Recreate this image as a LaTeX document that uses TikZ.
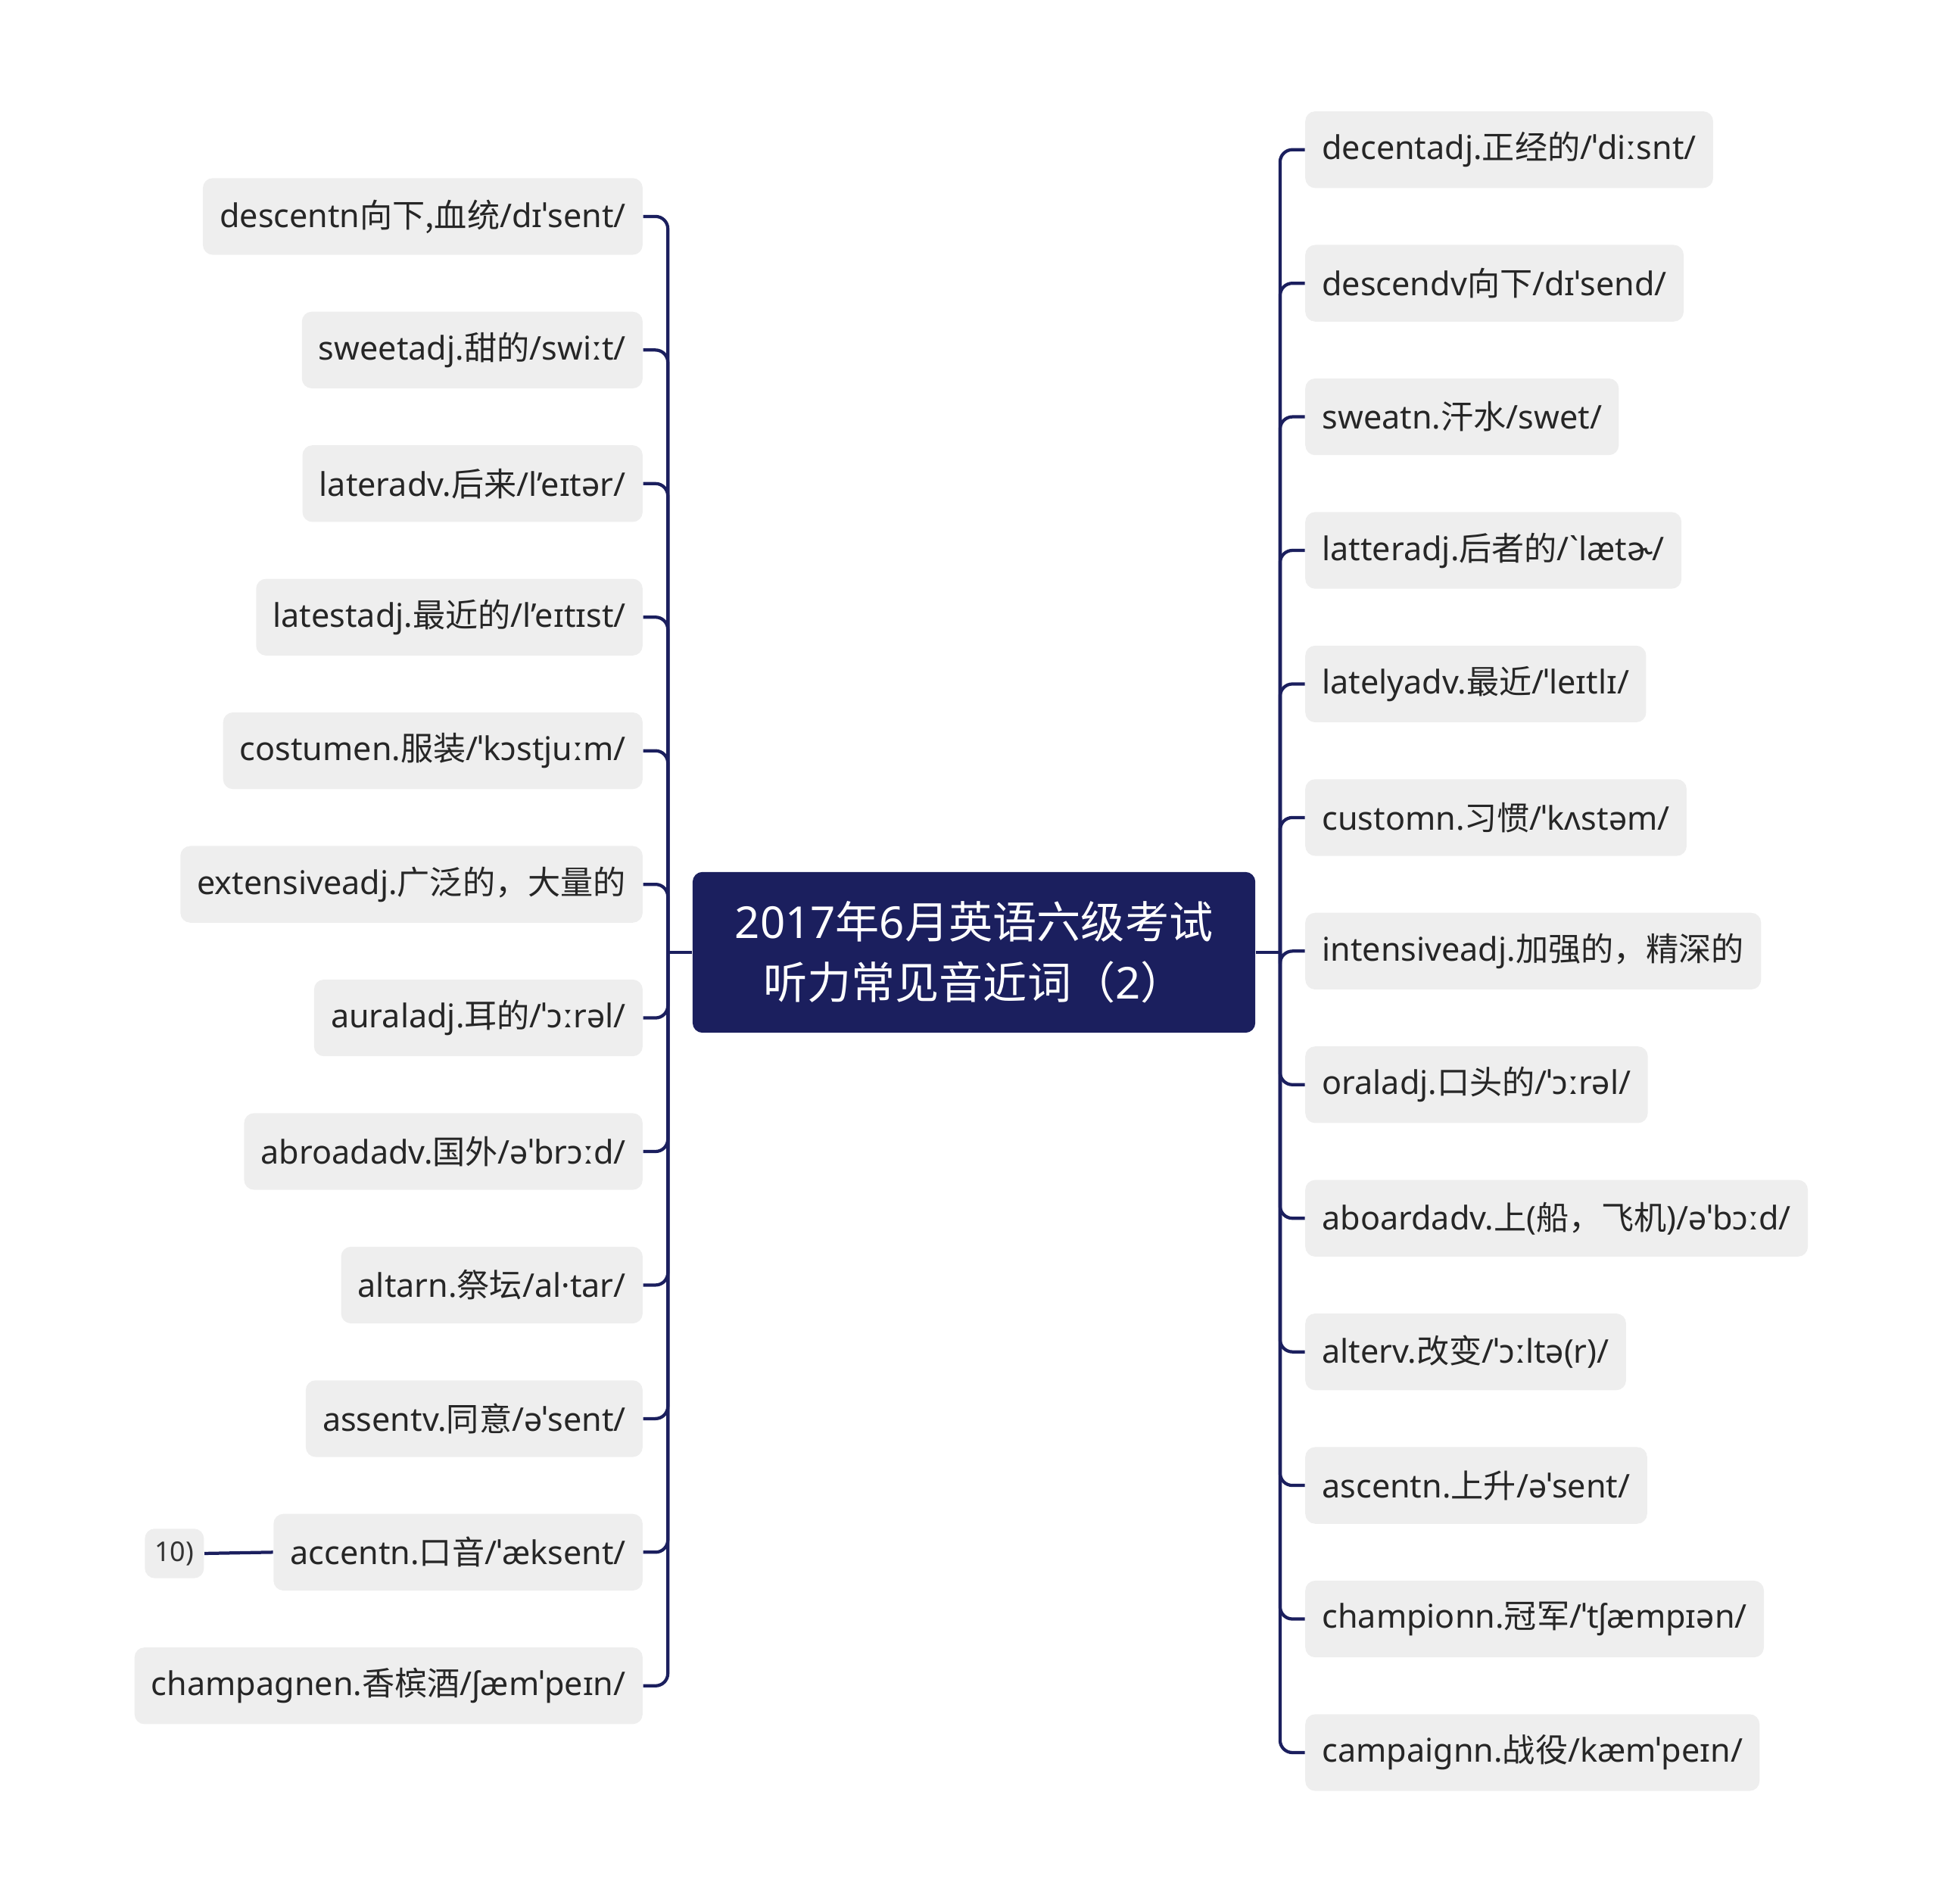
\documentclass[tikz,border=0pt]{standalone}
\usepackage{fontspec}
\setmainfont{Noto Sans}
\newfontfamily\cjk{Noto Sans CJK SC}
\newcommand\zh[1]{{\cjk #1}}
\definecolor{navy}{HTML}{1B1F5E}
\definecolor{leaf}{HTML}{EEEEEE}
\tikzset{
 leafbox/.style={fill=leaf,rounded corners=4pt,minimum height=31pt,inner xsep=6.8pt,font=\fontsize{13.2}{16}\selectfont,text=black!85},
 rootbox/.style={fill=navy,rounded corners=4pt,minimum width=227.5pt,minimum height=65pt,text=white,align=center,font=\fontsize{17.8}{24.5}\selectfont},
 link/.style={draw=navy,line width=1.3pt,rounded corners=5pt}
}
\begin{document}
\begin{tikzpicture}[x=0.5pt,y=-0.5pt]
\useasboundingbox (0,0) rectangle (1567,1539);
\node[rootbox] (root) at (787.5,770) {2017\zh{年}6\zh{月英语六级考试}\\\zh{听力常见音近词（}2\zh{）}};
\coordinate (lj) at (540,770);
\coordinate (rj) at (1035,770);
\draw[link] (root.west) -- (lj);
\draw[link] (root.east) -- (rj);
\foreach \i/\t in {
0/{descentn\zh{向下,血统}/dɪˈsent/},
1/{sweetadj.\zh{甜的}/swiːt/},
2/{lateradv.\zh{后来}/l'eɪtər/},
3/{latestadj.\zh{最近的}/l'eɪtɪst/},
4/{costumen.\zh{服装}/ˈkɔstjuːm/},
5/{extensiveadj.\zh{广泛的，大量的}},
6/{auraladj.\zh{耳的}/ˈɔːrəl/},
7/{abroadadv.\zh{国外}/əˈbrɔːd/},
8/{altarn.\zh{祭坛}/al·tar/},
9/{assentv.\zh{同意}/əˈsent/},
10/{accentn.\zh{口音}/ˈæksent/},
11/{champagnen.\zh{香槟酒}/ʃæmˈpeɪn/}}{
 \node[leafbox,anchor=east] (l\i) at (520,175+108*\i) {\t};
 \draw[link] (lj) |- (l\i.east);
}
\foreach \i/\t in {
0/{decentadj.\zh{正经的}/ˈdiːsnt/},
1/{descendv\zh{向下}/dɪˈsend/},
2/{sweatn.\zh{汗水}/swet/},
3/{latteradj.\zh{后者的}/ˋlætɚ/},
4/{latelyadv.\zh{最近}/ˈleɪtlɪ/},
5/{customn.\zh{习惯}/ˈkʌstəm/},
6/{intensiveadj.\zh{加强的，精深的}},
7/{oraladj.\zh{口头的}/ˈɔːrəl/},
8/{aboardadv.\zh{上}(\zh{船，飞机})/əˈbɔːd/},
9/{alterv.\zh{改变}/ˈɔːltə(r)/},
10/{ascentn.\zh{上升}/əˈsent/},
11/{championn.\zh{冠军}/ˈtʃæmpɪən/},
12/{campaignn.\zh{战役}/kæmˈpeɪn/}}{
 \node[leafbox,anchor=west] (r\i) at (1055,121+108*\i) {\t};
 \draw[link] (rj) |- (r\i.west);
}
\node[fill=leaf,rounded corners=4pt,minimum height=20pt,inner xsep=4pt,font=\fontsize{11}{13}\selectfont,text=black!80] (tag) at (141,1256) {10)};
\draw[link] (l10.west) -- (tag.east);
\end{tikzpicture}
\end{document}
